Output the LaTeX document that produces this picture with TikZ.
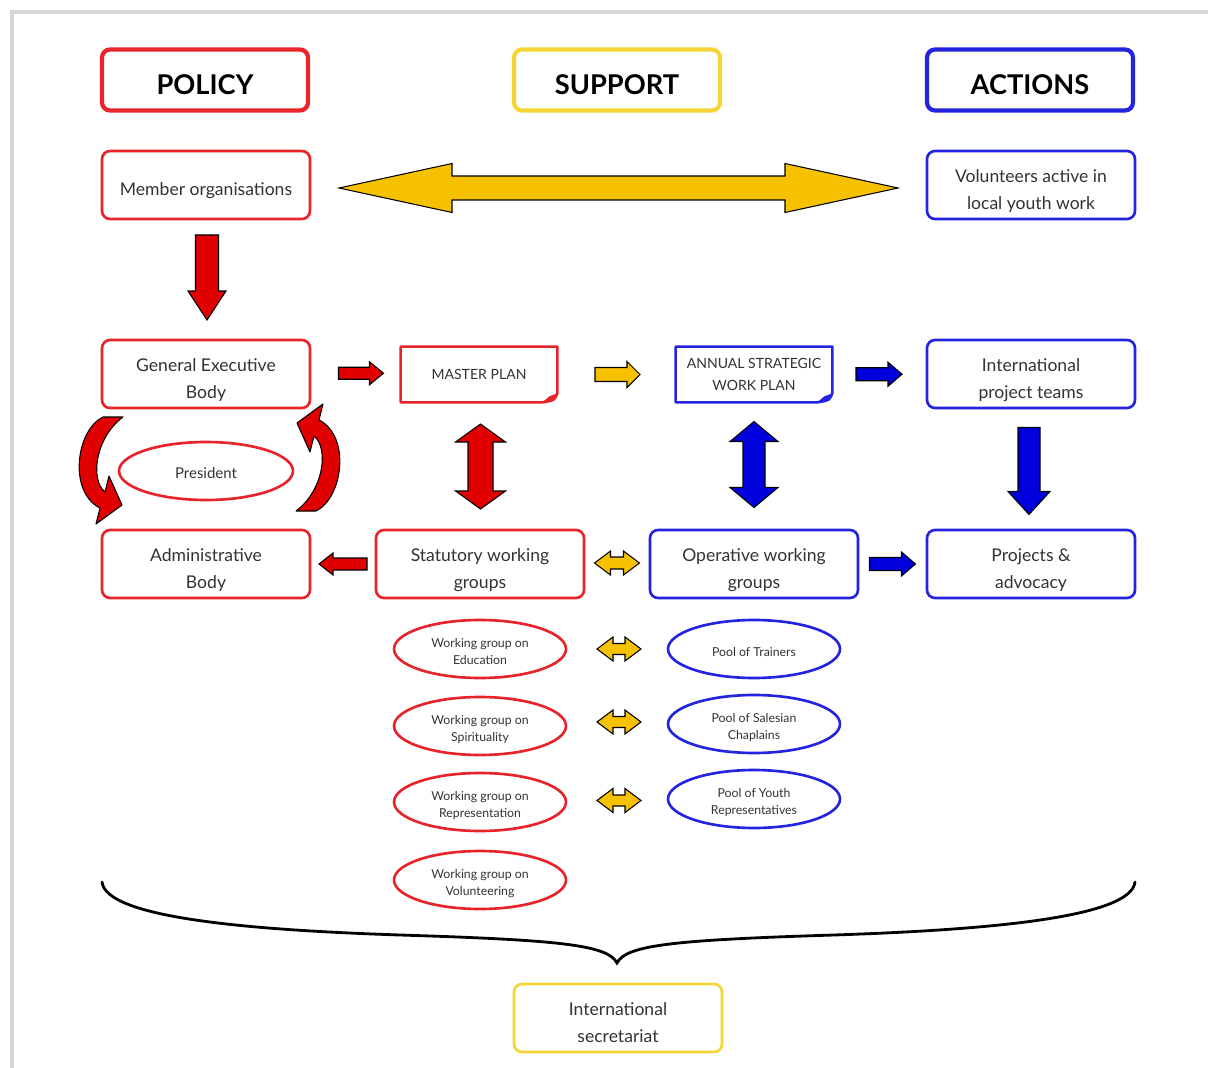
\documentclass[tikz,border=0pt]{standalone}
\usepackage{fontspec}
\setmainfont{Lato}
\usetikzlibrary{shapes.geometric,calc}
\definecolor{cred}{HTML}{E8232A}
\definecolor{cyel}{HTML}{F4D535}
\definecolor{cblue}{HTML}{2424E0}
\definecolor{ared}{HTML}{E00000}
\definecolor{ayel}{HTML}{F6C200}
\definecolor{ablue}{HTML}{0000DC}
\definecolor{tgray}{HTML}{333333}
\newcommand\twolines[2][-3.2pt]{\raisebox{#1}[\height][\depth]{\begin{tabular}{@{}c@{}}#2\end{tabular}}}
\tikzset{
  box/.style={draw, rounded corners=0.16cm, line width=1.5pt, fill=white,
    minimum width=4.16cm, minimum height=1.36cm, inner sep=0pt, align=center,
    text=tgray, font=\fontsize{10}{15.3}\selectfont,
    execute at begin node={\rule{0pt}{14pt}}},
  hdr/.style={box, line width=2.4pt, minimum width=4.12cm, minimum height=1.22cm,
    text=black, font=\fontsize{15.5}{18}\selectfont\bfseries,
    execute at begin node={\rule{0pt}{17pt}}},
  docbox/.style={minimum width=3.12cm, minimum height=1.1cm, inner sep=0pt,
    align=center, text=tgray, font=\fontsize{8}{12}\selectfont},
  oval/.style={ellipse, draw, line width=1.5pt, minimum width=3.44cm,
    minimum height=1.16cm, inner sep=0pt, align=center, text=tgray,
    font=\fontsize{7}{9.6}\selectfont,
    execute at begin node={\rule{0pt}{8.5pt}}},
  blockline/.style={draw=black, line width=0.6pt, line join=miter},
  pics/sarrow/.style n args={5}{code={
    \filldraw[blockline, fill=#5] (-#1/2,-#2/2) -- (#1/2-#4,-#2/2) -- (#1/2-#4,-#3/2)
      -- (#1/2,0) -- (#1/2-#4,#3/2) -- (#1/2-#4,#2/2) -- (-#1/2,#2/2) -- cycle;
  }},
  pics/darrow/.style n args={5}{code={
    \filldraw[blockline, fill=#5] (-#1/2,0) -- (-#1/2+#4,-#3/2) -- (-#1/2+#4,-#2/2)
      -- (#1/2-#4,-#2/2) -- (#1/2-#4,-#3/2) -- (#1/2,0) -- (#1/2-#4,#3/2)
      -- (#1/2-#4,#2/2) -- (-#1/2+#4,#2/2) -- (-#1/2+#4,#3/2) -- cycle;
  }},
  pics/curvy/.style={code={
    \filldraw[blockline, fill=ared, line join=round]
      (123,417) -- (103,417) .. controls (76,430) and (68,492) .. (100,508)
      -- (96,524) -- (122,505) -- (109,476) -- (105,492)
      .. controls (90,480) and (95,438) .. (123,417) -- cycle;
  }},
}
\begin{document}
\begin{tikzpicture}[x=0.02cm, y=-0.02cm]
\useasboundingbox (0,0) rectangle (1208,1068);
\fill[white] (0,0) rectangle (1208,1068);
\draw[black!16, line width=1.8pt] (12,1068) -- (12,12) -- (1208,12);

% headers
\node[hdr, draw=cred] (policy) at (205,80) {POLICY};
\node[hdr, draw=cyel] (support) at (617,80) {SUPPORT};
\node[hdr, draw=cblue] (actions) at (1030,80) {ACTIONS};

% row 1
\node[box, draw=cred] (member) at (206,185) {Member organisations};
\node[box, draw=cblue] (volunteers) at (1031,185) {\twolines{Volunteers active in\\local youth work}};

% row 2
\node[box, draw=cred] (geb) at (206,374) {\twolines{General Executive\\Body}};
\node[docbox] (master) at (479,374.5) {MASTER PLAN};
\node[docbox] (annual) at (754,374.5) {ANNUAL STRATEGIC\\WORK PLAN};
\node[box, draw=cblue] (ipt) at (1031,374) {\twolines{International\\project teams}};

% folded-corner documents
\draw[cred, line width=1.5pt, line join=round] (master.north west) -- (master.north east)
  -- ($(master.south east)+(0,-9)$) .. controls ($(master.south east)+(-3,-2)$) .. ($(master.south east)+(-15,0)$)
  -- (master.south west) -- cycle;
\fill[cred] ($(master.south east)+(0,-9)$) .. controls ($(master.south east)+(-3,-2)$) .. ($(master.south east)+(-15,0)$)
  -- ($(master.south east)+(-8,-6)$) -- cycle;
\draw[cblue, line width=1.5pt, line join=round] (annual.north west) -- (annual.north east)
  -- ($(annual.south east)+(0,-9)$) .. controls ($(annual.south east)+(-3,-2)$) .. ($(annual.south east)+(-15,0)$)
  -- (annual.south west) -- cycle;
\fill[cblue] ($(annual.south east)+(0,-9)$) .. controls ($(annual.south east)+(-3,-2)$) .. ($(annual.south east)+(-15,0)$)
  -- ($(annual.south east)+(-8,-6)$) -- cycle;

% president
\node[oval, draw=cred, minimum width=3.48cm, font=\fontsize{8.5}{10}\selectfont] (president) at (206,471) {President};

% row 3
\node[box, draw=cred] (admin) at (206,564) {\twolines{Administrative\\Body}};
\node[box, draw=cred] (statutory) at (480,564) {\twolines{Statutory working\\groups}};
\node[box, draw=cblue] (operative) at (754,564) {\twolines{Operative working\\groups}};
\node[box, draw=cblue] (projects) at (1031,564) {\twolines{Projects \&\\advocacy}};

% working groups and pools
\node[oval, draw=cred] (wgedu) at (480,649) {\twolines[-2.3pt]{Working group on\\Education}};
\node[oval, draw=cred] (wgspi) at (480,726) {\twolines[-2.3pt]{Working group on\\Spirituality}};
\node[oval, draw=cred] (wgrep) at (480,802) {\twolines[-2.3pt]{Working group on\\Representation}};
\node[oval, draw=cred] (wgvol) at (480,880) {\twolines[-2.3pt]{Working group on\\Volunteering}};
\node[oval, draw=cblue] (ptrain) at (754,649) {Pool of Trainers};
\node[oval, draw=cblue] (pchap) at (754,724) {\twolines[-2.3pt]{Pool of Salesian\\Chaplains}};
\node[oval, draw=cblue] (pyouth) at (754,799) {\twolines[-2.3pt]{Pool of Youth\\Representatives}};

% secretariat
\node[box, draw=cyel] (secretariat) at (618,1018) {\twolines{International\\secretariat}};

% block arrows
\pic at ($(member.east)!0.5!(volunteers.west)+(0,3)$) {darrow={559}{24}{49}{113}{ayel}};
\pic[rotate=-90] at ($(member.south)!0.5!(geb.north)+(1,-2)$) {sarrow={85}{23}{38}{29}{ared}};
\pic at ($(geb.east)!0.5!(master.west)+(5,-1)$) {sarrow={45}{12}{23}{14}{ared}};
\pic at ($(master.east)!0.5!(annual.west)+(1,0)$) {sarrow={45}{14}{26}{13}{ayel}};
\pic at ($(annual.east)!0.5!(ipt.west)$) {sarrow={46}{13}{24}{14}{ablue}};
\pic[rotate=90] at ($(master.south)!0.5!(statutory.north)+(1,1)$) {darrow={85}{25}{50}{18}{ared}};
\pic[rotate=90] at ($(annual.south)!0.5!(operative.north)+(0,-1)$) {darrow={86}{22}{48}{20}{ablue}};
\pic[rotate=-90] at ($(ipt.south)!0.5!(projects.north)+(-2,2)$) {sarrow={87}{22}{42}{23}{ablue}};
\pic[rotate=180] at ($(admin.east)!0.5!(statutory.west)$) {sarrow={48}{12}{22}{14}{ared}};
\pic at ($(statutory.east)!0.5!(operative.west)+(0,-1)$) {darrow={45}{12}{24}{16}{ayel}};
\pic at ($(operative.east)!0.5!(projects.west)$) {sarrow={46}{13}{24}{14}{ablue}};
\pic at ($(wgedu.east)!0.5!(ptrain.west)+(2,0)$) {darrow={44}{11}{24}{16}{ayel}};
\pic at ($(wgspi.east)!0.5!(pchap.west)+(2,-3)$) {darrow={44}{11}{24}{16}{ayel}};
\pic at ($(wgrep.east)!0.5!(pyouth.west)+(2,0)$) {darrow={44}{11}{24}{16}{ayel}};

% curved arrows around the president
\pic {curvy};
\pic[rotate around={180:(209.5,464)}] {curvy};

% brace
\coordinate (braceL) at (102,882);
\coordinate (braceR) at (1135,882);
\coordinate (braceT) at (617,963);
\draw[black, line width=1.6pt, line cap=round]
  (braceL) .. controls (106,918) and (250,930) .. (400,935)
  .. controls (560,940) and (608,945) .. (braceT)
  .. controls (626,945) and (674,940) .. (834,935)
  .. controls (984,930) and (1131,918) .. (braceR);
\end{tikzpicture}
\end{document}
